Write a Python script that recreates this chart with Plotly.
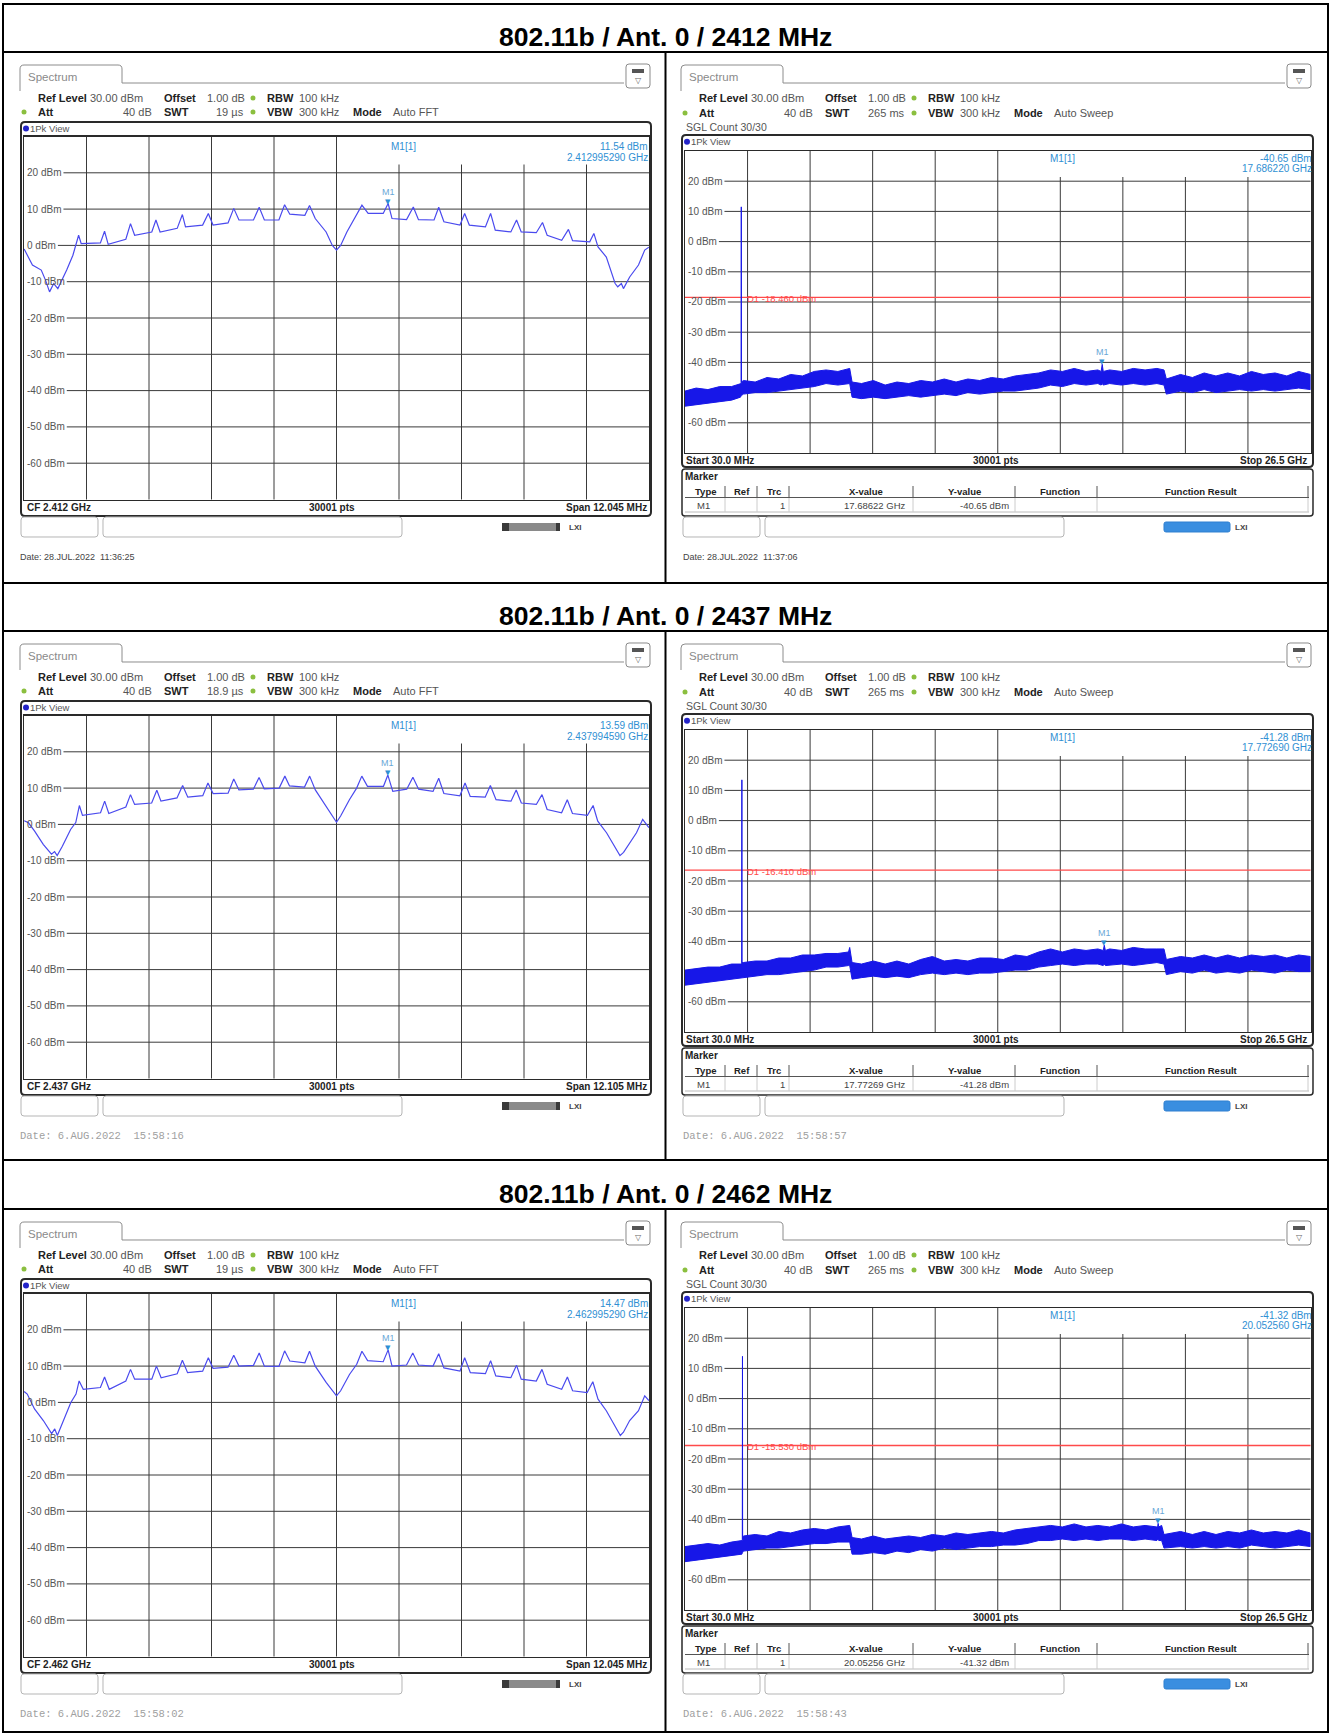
import plotly.graph_objects as go

W, H = 1333, 1735
SANS = "Liberation Sans, Arial, sans-serif"
MONO = "Liberation Mono, Courier New, monospace"
SYM = "DejaVu Sans, sans-serif"

# ---------------------------------------------------------------- data
TITLES = ["802.11b / Ant. 0 / 2412 MHz", "802.11b / Ant. 0 / 2437 MHz", "802.11b / Ant. 0 / 2462 MHz"]
CF_MHZ = [2412.0, 2437.0, 2462.0]
SPAN_MHZ = [12.045, 12.105, 12.045]
CF_LABELS = ["CF 2.412 GHz", "CF 2.437 GHz", "CF 2.462 GHz"]
SPAN_LABELS = ["Span 12.045 MHz", "Span 12.105 MHz", "Span 12.045 MHz"]
SWT_FFT = ["19 µs", "18.9 µs", "19 µs"]
SWT_SWEEP = ["265 ms", "265 ms", "265 ms"]
M1_FFT_OFFSET_MHZ = [0.99529, 0.99459, 0.99529]
M1_FFT_DBM = [11.54, 13.59, 14.47]
M1_FFT_FREQ_TXT = ["2.412995290 GHz", "2.437994590 GHz", "2.462995290 GHz"]
M1_SWP_GHZ = [17.68622, 17.77269, 20.05256]
M1_SWP_DBM = [-40.65, -41.28, -41.32]
M1_SWP_FREQ_TXT = ["17.686220 GHz", "17.772690 GHz", "20.052560 GHz"]
M1_SWP_TABLE_X = ["17.68622 GHz", "17.77269 GHz", "20.05256 GHz"]
D1_DBM = [-18.46, -16.41, -15.53]
D1_TXT = ["D1 -18.460 dBm", "D1 -16.410 dBm", "D1 -15.530 dBm"]
DATES_FFT = ["Date: 28.JUL.2022  11:36:25", "Date: 6.AUG.2022  15:58:16", "Date: 6.AUG.2022  15:58:02"]
DATES_SWP = ["Date: 28.JUL.2022  11:37:06", "Date: 6.AUG.2022  15:58:57", "Date: 6.AUG.2022  15:58:43"]
Y_TICKS = [20, 10, 0, -10, -20, -30, -40, -50, -60]
Y_LABELLED_FFT = [20, 10, 0, -10, -20, -30, -40, -50, -60]
Y_LABELLED_SWP = [20, 10, 0, -10, -20, -30, -40, -60]
SWP_START_GHZ, SWP_STOP_GHZ = 0.03, 26.5

# FFT traces: offset from CF (MHz) and level (dBm)
L1_OFF = [-6.02, -5.86, -5.69, -5.61, -5.53, -5.45, -5.37, -5.20, -5.08, -5.02, -4.97, -4.92, -4.79, -4.55,
          -4.47, -4.40, -4.06, -3.97, -3.89, -3.56, -3.48, -3.40, -3.07, -2.97, -2.91, -2.58, -2.47, -2.38,
          -2.09, -1.98, -1.88, -1.60, -1.49, -1.39, -1.11, -1.00, -0.90, -0.61, -0.52, -0.41, -0.20, -0.08,
          0.00, 0.08, 0.20, 0.37, 0.49, 0.61, 0.90, 0.995, 1.07, 1.35, 1.48, 1.58, 1.88, 1.97, 2.07, 2.38,
          2.47, 2.56, 2.87, 2.97, 3.06, 3.36, 3.47, 3.56, 3.85, 3.97, 4.06, 4.34, 4.47, 4.55, 4.88, 4.96,
          5.04, 5.20, 5.37, 5.42, 5.49, 5.53, 5.65, 5.82, 5.94, 6.02]
L1_DBM = [-1.0, -5.4, -6.8, -9.5, -12.8, -10.5, -11.9, -6.8, -2.7, 0.0, 2.8, 0.5, 0.5, 0.7,
          3.9, 0.3, 1.7, 6.0, 2.8, 3.7, 7.0, 3.7, 4.7, 8.5, 5.1, 5.6, 8.8, 5.6,
          6.2, 10.2, 7.0, 7.0, 10.5, 7.0, 7.0, 11.2, 8.6, 8.3, 11.0, 7.4, 3.7, 0.0,
          -1.3, 0.0, 3.7, 7.9, 11.1, 8.8, 8.8, 11.54, 7.4, 7.1, 10.6, 7.1, 7.0, 10.5, 6.5, 5.6,
          8.8, 5.6, 5.1, 8.8, 4.2, 3.7, 7.0, 3.7, 3.5, 6.3, 2.8, 1.4, 4.4, 1.3, 1.0, 3.3,
          -0.4, -3.2, -10.5, -11.4, -10.5, -11.9, -8.7, -5.4, -1.3, -0.5]
L2_OFF = [-6.05, -5.97, -5.85, -5.68, -5.52, -5.46, -5.41, -5.31, -5.15, -5.05, -4.98, -4.92, -4.57, -4.49,
          -4.41, -4.08, -3.99, -3.91, -3.58, -3.48, -3.40, -3.09, -2.98, -2.88, -2.59, -2.49, -2.39, -2.10,
          -1.99, -1.89, -1.61, -1.50, -1.40, -1.11, -1.00, -0.91, -0.62, -0.52, -0.41, -0.21, -0.06, 0.00,
          0.08, 0.25, 0.39, 0.49, 0.60, 0.91, 0.995, 1.09, 1.36, 1.48, 1.59, 1.87, 1.98, 2.08, 2.39, 2.49,
          2.59, 2.88, 2.98, 3.09, 3.38, 3.48, 3.58, 3.87, 3.98, 4.08, 4.36, 4.47, 4.57, 4.86, 4.97, 5.06,
          5.23, 5.44, 5.49, 5.56, 5.68, 5.81, 5.93, 6.05]
L2_DBM = [1.0, 0.5, -1.8, -5.5, -8.2, -7.5, -8.6, -6.0, -1.4, 0.5, 5.2, 2.5, 3.2, 6.4,
          3.0, 4.8, 8.2, 5.5, 5.9, 9.4, 6.4, 7.3, 10.7, 7.5, 7.9, 11.4, 8.5, 8.6,
          12.5, 9.5, 9.7, 12.9, 9.8, 10.0, 13.3, 10.6, 10.3, 13.3, 9.5, 5.0, 1.8, 0.6,
          2.3, 6.8, 10.0, 13.3, 10.5, 10.5, 13.59, 9.1, 9.7, 13.0, 9.7, 9.1, 12.7, 8.5, 7.9, 11.4,
          7.7, 7.5, 10.7, 6.8, 6.4, 9.5, 5.9, 5.5, 8.2, 4.1, 3.2, 6.8, 3.0, 2.5, 5.2, 0.9,
          -2.3, -7.5, -8.6, -7.7, -5.0, -2.3, 1.4, -0.9]
L3_OFF = [-6.02, -5.96, -5.82, -5.65, -5.49, -5.43, -5.38, -5.29, -5.12, -5.02, -4.96, -4.88, -4.55, -4.47,
          -4.38, -4.06, -3.97, -3.89, -3.56, -3.47, -3.38, -3.07, -2.97, -2.87, -2.58, -2.47, -2.38, -2.09,
          -1.98, -1.88, -1.60, -1.49, -1.39, -1.11, -1.00, -0.90, -0.61, -0.52, -0.41, -0.20, -0.06, 0.00,
          0.08, 0.25, 0.39, 0.49, 0.60, 0.90, 0.995, 1.07, 1.35, 1.47, 1.58, 1.86, 1.97, 2.07, 2.38, 2.47,
          2.58, 2.87, 2.97, 3.07, 3.36, 3.47, 3.56, 3.85, 3.96, 4.06, 4.34, 4.45, 4.55, 4.83, 4.94, 5.04,
          5.20, 5.41, 5.47, 5.53, 5.65, 5.82, 5.94, 6.02]
L3_DBM = [3.0, 2.3, -1.8, -5.0, -8.6, -7.3, -9.1, -5.9, 0.0, 2.3, 5.9, 3.6, 4.1, 7.0,
          3.6, 5.9, 9.1, 6.4, 6.4, 10.0, 6.8, 7.9, 11.6, 8.2, 8.6, 12.3, 9.4, 9.7,
          13.0, 10.0, 10.2, 13.6, 10.0, 9.9, 14.2, 11.4, 10.9, 14.1, 10.0, 5.5, 2.7, 1.8,
          3.2, 7.7, 10.5, 14.1, 11.5, 11.2, 14.47, 10.0, 10.3, 13.6, 10.3, 10.0, 13.4, 9.5, 8.6, 12.3,
          8.2, 7.9, 11.5, 7.3, 6.8, 10.2, 6.4, 5.9, 9.1, 5.0, 3.6, 7.0, 3.2, 2.7, 5.7, 0.9,
          -2.3, -7.3, -9.1, -8.2, -5.0, -2.3, 1.8, 0.5]

# Sweep traces (30 MHz - 26.5 GHz): frequency (GHz), upper / lower envelope of the peak trace (dBm)
R1_F = [0.03, 0.5, 1.0, 1.5, 2.0, 2.38, 2.405, 2.412, 2.419,
        2.5, 3.0, 3.5, 4.0, 4.5, 5.0, 5.5, 6.0, 6.5, 7.0,
        7.1,
        7.5, 8.0, 8.5, 9.0, 9.5, 10.0, 10.5, 11.0, 11.5, 12.0, 12.5, 13.0, 13.5, 14.0, 14.5, 15.0, 15.5, 16.0, 16.5, 17.0, 17.5,
        17.64, 17.686, 17.73,
        18.0, 18.5, 19.0, 19.5, 20.0,
        20.3, 20.4,
        21.0, 21.5, 22.0, 22.5, 23.0, 23.5, 24.0, 24.5, 25.0, 25.5, 26.0, 26.5]
R1_UP = [-49.5, -48.5, -49.0, -48.0, -48.0, -47.0, -47.0, 11.5, -46.5,
         -46.0, -46.5, -45.0, -45.5, -44.0, -44.5, -43.0, -42.5, -43.0, -42.0,
         -46.5,
         -47.0, -46.0, -47.5, -46.5, -47.0, -46.0, -46.5, -45.5, -46.5, -45.5, -46.0, -45.0, -45.5, -44.5, -44.0, -43.5, -42.5, -43.0, -42.0, -43.0, -42.5,
         -43.0, -40.65, -43.0,
         -42.5, -43.0, -42.0, -42.5, -42.0,
         -42.5, -45.5,
         -44.0, -45.0, -43.5, -44.5, -43.5, -44.5, -43.0, -44.0, -43.5, -44.5, -43.0, -44.0]
R1_LO = [-54.5, -54.0, -53.5, -53.0, -52.5, -51.5, -51.0, -51.0, -51.0,
         -50.5, -50.0, -50.0, -49.5, -49.0, -48.5, -48.0, -47.0, -47.5, -47.0,
         -51.5,
         -52.0, -51.5, -52.0, -51.5, -51.0, -51.5, -51.0, -50.5, -51.0, -50.0, -50.5, -50.0, -49.5, -49.5, -49.0, -48.5, -47.5, -48.0, -47.0, -47.5, -47.0,
         -47.5, -47.0, -47.5,
         -47.0, -47.5, -47.0, -47.5, -47.0,
         -47.5, -50.5,
         -49.5, -50.0, -49.0, -50.0, -49.5, -49.0, -49.5, -49.0, -49.5, -49.0, -48.5, -49.0]
R2_F = [0.03, 0.5, 1.0, 1.5, 2.0, 2.41, 2.430, 2.437, 2.444,
        2.5, 3.0, 3.5, 4.0, 4.5, 5.0, 5.5, 6.0, 6.5,
        6.95, 7.0, 7.1,
        7.5, 8.0, 8.5, 9.0, 9.5, 10.0, 10.5, 11.0, 11.5, 12.0, 12.5, 13.0, 13.5, 14.0, 14.5, 15.0, 15.5, 16.0, 16.5, 17.0, 17.5,
        17.73, 17.773, 17.82,
        18.0, 18.5, 19.0, 19.5, 20.0,
        20.3, 20.4,
        21.0, 21.5, 22.0, 22.5, 23.0, 23.5, 24.0, 24.5, 25.0, 25.5, 26.0, 26.5]
R2_UP = [-49.5, -49.0, -48.5, -48.5, -47.5, -47.5, -47.5, 13.5, -47.0,
         -47.0, -46.5, -46.5, -45.5, -45.5, -44.5, -44.5, -44.0, -44.0,
         -43.5, -42.0, -47.0,
         -47.5, -46.5, -47.5, -46.5, -47.5, -46.0, -45.0, -46.5, -46.0, -46.5, -45.5, -45.5, -46.0, -44.5, -45.0, -43.5, -42.5, -43.5, -42.5, -43.0, -42.5,
         -43.0, -41.28, -43.0,
         -42.5, -43.0, -42.0, -42.5, -42.5,
         -42.5, -46.0,
         -45.0, -45.5, -44.5, -45.5, -44.5, -45.5, -44.5, -45.0, -44.5, -45.5, -44.5, -45.0]
R2_LO = [-54.5, -54.0, -53.5, -53.0, -52.5, -52.0, -52.0, -52.0, -52.0,
         -52.0, -51.5, -51.0, -51.0, -50.5, -50.0, -49.5, -48.5, -48.5,
         -48.0, -48.0, -52.5,
         -52.0, -51.5, -52.0, -51.5, -52.0, -51.0, -50.5, -51.0, -50.5, -51.0, -50.5, -50.5, -50.0, -49.5, -49.5, -48.5, -48.0, -47.5, -48.0, -47.5, -47.5,
         -48.0, -47.5, -48.0,
         -48.0, -47.5, -48.0, -47.5, -47.0,
         -47.5, -51.0,
         -50.0, -50.5, -49.5, -50.5, -50.0, -50.5, -49.5, -50.0, -50.5, -49.5, -50.0, -50.0]
R3_F = [0.03, 0.5, 1.0, 1.5, 2.0, 2.44, 2.455, 2.462, 2.469,
        2.5, 3.0, 3.5, 4.0, 4.5, 5.0, 5.5, 6.0, 6.5, 7.0,
        7.1,
        7.5, 8.0, 8.5, 9.0, 9.5, 10.0, 10.5, 11.0, 11.5, 12.0, 12.5, 13.0, 13.5, 14.0, 14.5, 15.0, 15.5, 16.0, 16.5, 17.0,
        17.5, 18.0, 18.5, 19.0, 19.5, 20.0,
        20.03, 20.053, 20.08,
        20.2, 20.3,
        21.0, 21.5, 22.0, 22.5, 23.0, 23.5, 24.0, 24.5, 25.0, 25.5, 26.0, 26.5]
R3_UP = [-49.0, -48.5, -48.0, -48.5, -47.5, -47.0, -47.0, 14.0, -46.5,
         -45.5, -45.0, -45.5, -44.0, -44.5, -43.5, -43.0, -43.5, -42.5, -42.0,
         -46.0,
         -46.5, -45.5, -46.5, -46.0, -45.5, -46.0, -45.0, -45.5, -44.5, -45.0, -44.5, -44.0, -44.5, -43.5, -43.0, -42.5, -42.0, -42.5, -41.5, -42.5,
         -42.0, -42.5, -41.5, -42.5, -42.0, -42.5,
         -42.5, -41.32, -42.5,
         -42.0, -45.0,
         -44.0, -45.0, -44.0, -45.0, -44.0, -44.5, -43.5, -44.5, -44.0, -44.5, -43.5, -44.5]
R3_LO = [-54.0, -53.5, -53.0, -52.5, -52.0, -51.5, -51.0, -51.0, -51.0,
         -50.5, -50.0, -49.5, -49.5, -49.0, -48.5, -48.0, -48.0, -47.5, -47.5,
         -51.5,
         -51.5, -51.0, -51.5, -50.5, -51.0, -50.0, -50.5, -49.5, -50.0, -49.5, -49.0, -49.0, -48.5, -48.5, -48.0, -47.0, -47.0, -46.5, -47.0, -46.5,
         -47.0, -46.5, -46.5, -47.0, -46.5, -47.0,
         -46.5, -46.5, -47.0,
         -47.0, -49.5,
         -49.0, -49.5, -49.0, -49.5, -49.0, -49.5, -48.5, -49.0, -49.5, -49.0, -48.5, -49.0]

FFT_TRACES = [(L1_OFF, L1_DBM), (L2_OFF, L2_DBM), (L3_OFF, L3_DBM)]
SWP_TRACES = [(R1_F, R1_UP, R1_LO), (R2_F, R2_UP, R2_LO), (R3_F, R3_UP, R3_LO)]

# ---------------------------------------------------------------- helpers
ROW_TOP = [52, 631, 1209]
shapes, annos, traces, axes = [], [], [], {}

TRACE_FFT = "#4a4aee"
TRACE_SWP = "#1717e8"
MK = "#2f8fd3"
GRID = "#3a3a3a"
CHAR_W = {"-": 333, " ": 278, "d": 556, "B": 667, "m": 833}


def text_w(s, size):
    return sum(CHAR_W.get(c, 556) for c in s) * size / 1000.0


def fx(x):
    return x / W


def fy(y):
    return 1 - y / H


def pt(x, y):
    return f"{fx(x):.6f},{fy(y):.6f}"


def add_line(x0, y0, x1, y1, color="#000", w=1.0):
    shapes.append(dict(type="line", xref="paper", yref="paper", x0=fx(x0), y0=fy(y0), x1=fx(x1), y1=fy(y1),
                       line=dict(color=color, width=w)))


def add_rect(x0, y0, x1, y1, fill, line=None, w=0):
    shapes.append(dict(type="rect", xref="paper", yref="paper", x0=fx(x0), y0=fy(y1), x1=fx(x1), y1=fy(y0),
                       fillcolor=fill, line=dict(color=line or "rgba(0,0,0,0)", width=w)))


def add_rrect(x0, y0, x1, y1, r, line="#333", w=1.0, fill="rgba(0,0,0,0)"):
    d = (f"M{pt(x0 + r, y0)} L{pt(x1 - r, y0)} Q{pt(x1, y0)} {pt(x1, y0 + r)} L{pt(x1, y1 - r)} "
         f"Q{pt(x1, y1)} {pt(x1 - r, y1)} L{pt(x0 + r, y1)} Q{pt(x0, y1)} {pt(x0, y1 - r)} "
         f"L{pt(x0, y0 + r)} Q{pt(x0, y0)} {pt(x0 + r, y0)} Z")
    shapes.append(dict(type="path", xref="paper", yref="paper", path=d, line=dict(color=line, width=w),
                       fillcolor=fill))


def add_dot(x, y, r, color):
    shapes.append(dict(type="circle", xref="paper", yref="paper", x0=fx(x - r), x1=fx(x + r), y0=fy(y + r),
                       y1=fy(y - r), fillcolor=color, line=dict(width=0)))


def add_text(x, y, s, size=11, color="#222", anchor="left", bold=False, family=SANS):
    annos.append(dict(xref="paper", yref="paper", x=fx(x), y=fy(y), text=f"<b>{s}</b>" if bold else s,
                      showarrow=False, xanchor=anchor, yanchor="middle", borderpad=0, borderwidth=0,
                      font=dict(size=size, color=color, family=family)))


AX_COMMON = dict(showgrid=False, showticklabels=False, ticks="", zeroline=False,
                 showline=True, linecolor="#2a2a2a", linewidth=1.2, mirror=True, fixedrange=True)
_n = [0]


def new_axes(x0, y0, x1, y1, xrange):
    _n[0] += 1
    s = "" if _n[0] == 1 else str(_n[0])
    axes["xaxis" + s] = dict(domain=[fx(x0), fx(x1)], range=list(xrange), anchor="y" + s, **AX_COMMON)
    axes["yaxis" + s] = dict(domain=[fy(y1), fy(y0)], range=[-70, 30], anchor="x" + s, **AX_COMMON)
    return "x" + s, "y" + s


def grid(xn, yn, labelled, pw, ph, info_h):
    for k in range(1, 10):
        top = 1.0 if k <= 5 else 1.0 - info_h / ph
        shapes.append(dict(type="line", xref=f"{xn} domain", yref=f"{yn} domain", x0=k / 10, x1=k / 10,
                           y0=0, y1=top, line=dict(color=GRID, width=1), layer="below"))
    for v in Y_TICKS:
        s = f"{v} dBm"
        start = (4 + text_w(s, 10) + 1) / pw if v in labelled else 0
        shapes.append(dict(type="line", xref=f"{xn} domain", yref=yn, x0=start, x1=1, y0=v, y1=v,
                           line=dict(color=GRID, width=1), layer="below"))
        if v in labelled:
            annos.append(dict(xref=f"{xn} domain", yref=yn, x=3 / pw, y=v, text=s, showarrow=False,
                              xanchor="left", yanchor="middle", borderpad=0, borderwidth=0,
                              font=dict(size=10, color="#555", family=SANS)))


def header(fx0, top, sweep, swt, mode):
    t0 = fx0 - 1
    d = (f"M{pt(t0, top + 39)} L{pt(t0, top + 17)} Q{pt(t0, top + 13)} {pt(t0 + 4, top + 13)} "
         f"L{pt(t0 + 98, top + 13)} Q{pt(t0 + 102, top + 13)} {pt(t0 + 102, top + 17)} "
         f"L{pt(t0 + 102, top + 31)} L{pt(fx0 + 603, top + 31)}")
    shapes.append(dict(type="path", xref="paper", yref="paper", path=d, line=dict(color="#8c8c8c", width=1),
                       fillcolor="rgba(0,0,0,0)"))
    add_text(fx0 + 7, top + 25, "Spectrum", size=11.5, color="#8a8a8a")
    add_rrect(fx0 + 605, top + 12, fx0 + 629, top + 36, 3, line="#8a8a8a", w=1)
    add_rect(fx0 + 611, top + 17, fx0 + 623, top + 21, "#555")
    add_text(fx0 + 617, top + 28, "▽", size=8, color="#666", anchor="center", family=SYM)
    ya, yb = top + 46, top + (61 if sweep else 60)
    add_text(fx0 + 16.5, ya, "Ref Level", bold=True)
    add_text(fx0 + 69, ya, "30.00 dBm", color="#555")
    add_text(fx0 + 143, ya, "Offset", bold=True)
    add_text(fx0 + 186, ya, "1.00 dB", color="#555")
    add_dot(fx0 + 232, ya, 2.5, "#8bbf3f")
    add_text(fx0 + 246, ya, "RBW", bold=True)
    add_text(fx0 + 278, ya, "100 kHz", color="#555")
    add_dot(fx0 + 3, yb, 2.5, "#8bbf3f")
    add_text(fx0 + 17, yb, "Att", bold=True)
    add_text(fx0 + 131, yb, "40 dB", color="#555", anchor="right")
    add_text(fx0 + 143, yb, "SWT", bold=True)
    add_text(fx0 + 223, yb, swt, color="#555", anchor="right")
    add_dot(fx0 + 232, yb, 2.5, "#8bbf3f")
    add_text(fx0 + 246, yb, "VBW", bold=True)
    add_text(fx0 + 278, yb, "300 kHz", color="#555")
    add_text(fx0 + 332, yb, "Mode", bold=True)
    add_text(fx0 + 372, yb, mode, color="#555")
    if sweep:
        add_text(fx0 + 3.5, top + 74.7, "SGL Count 30/30", color="#555", size=10.5)


def marker_glyph(xn, yn, x, y):
    annos.append(dict(xref=xn, yref=yn, x=x, y=y, text="▼", showarrow=False, xanchor="center", yanchor="bottom",
                      borderpad=0, borderwidth=0, yshift=-2, font=dict(size=7, color=MK, family=SYM)))
    annos.append(dict(xref=xn, yref=yn, x=x, y=y, text="M1", showarrow=False, xanchor="center", yanchor="bottom",
                      borderpad=0, borderwidth=0, yshift=7, font=dict(size=9, color="#6aa8d8", family=SANS)))


def status(fx0, top, sweep):
    add_rrect(fx0, top + 465, fx0 + 77, top + 485, 3, line="#b5b5b5", w=1)
    add_rrect(fx0 + 82, top + 465, fx0 + 381, top + 485, 3, line="#b5b5b5", w=1)
    if sweep:
        add_rrect(fx0 + 481, top + 470, fx0 + 547, top + 480, 2, line="#2f7fd0", w=1, fill="#3a8ee0")
        add_text(fx0 + 552, top + 475, "LXI", size=8, color="#444", bold=True)
    else:
        add_rect(fx0 + 481, top + 471, fx0 + 539, top + 479, "#8a8a8a")
        add_rect(fx0 + 481, top + 471, fx0 + 488, top + 479, "#3a3a3a")
        add_rect(fx0 + 535, top + 471, fx0 + 539, top + 479, "#3a3a3a")
        add_text(fx0 + 548, top + 475, "LXI", size=8, color="#444", bold=True)


# ---------------------------------------------------------------- table frame
add_rect(3, 4, 1328, 1732, "rgba(0,0,0,0)", line="#000", w=2)
for yl in [52, 583, 631, 1160, 1209]:
    add_line(3, yl, 1328, yl, "#000", 2)
for (ya_, yb_) in [(52, 583), (631, 1160), (1209, 1732)]:
    add_line(665.5, ya_, 665.5, yb_, "#000", 2)
for r in range(3):
    add_text(665.5, ROW_TOP[r] - 15, TITLES[r], size=26.5, color="#000", anchor="center", bold=True)

# ---------------------------------------------------------------- FFT panels (left)
for r in range(3):
    top = ROW_TOP[r]
    fx0 = 21
    header(fx0, top, False, SWT_FFT[r], "Auto FFT")
    add_rrect(fx0, top + 70, fx0 + 630, top + 464, 4, line="#2a2a2a", w=2)
    add_dot(fx0 + 5, top + 76.5, 3, "#2323c8")
    add_text(fx0 + 9, top + 76.5, "1Pk View", size=9.5, color="#555")
    x0, x1, y0, y1 = fx0 + 3, fx0 + 628, top + 84.5, top + 447.5
    pw, ph = x1 - x0, y1 - y0
    cf, sp = CF_MHZ[r], SPAN_MHZ[r]
    xn, yn = new_axes(x0, y0, x1, y1, (cf - sp / 2, cf + sp / 2))
    grid(xn, yn, Y_LABELLED_FFT, pw, ph, 28)
    off, lev = FFT_TRACES[r]
    assert len(off) == len(lev)
    traces.append(go.Scatter(x=[cf + o for o in off], y=lev, mode="lines", line=dict(color=TRACE_FFT, width=1.2),
                             xaxis=xn, yaxis=yn, hoverinfo="skip", showlegend=False))
    marker_glyph(xn, yn, cf + M1_FFT_OFFSET_MHZ[r], M1_FFT_DBM[r])
    add_text(fx0 + 382, y0 + 10, "M1[1]", size=10, color=MK, anchor="center")
    add_text(x1 - 1, y0 + 10, f"{M1_FFT_DBM[r]:.2f} dBm", size=10, color=MK, anchor="right")
    add_text(x1 - 1, y0 + 21, M1_FFT_FREQ_TXT[r], size=10, color=MK, anchor="right")
    add_text(x0 + 3, top + 455, CF_LABELS[r], size=10, bold=True)
    add_text(fx0 + 311, top + 455, "30001 pts", size=10, bold=True, anchor="center")
    add_text(x1 - 2, top + 455, SPAN_LABELS[r], size=10, bold=True, anchor="right")
    status(fx0, top, False)
    if r == 0:
        add_text(fx0 - 1, top + 505, DATES_FFT[r], size=9, color="#444")
    else:
        add_text(fx0 - 1, top + 505, DATES_FFT[r], size=10.5, color="#a0a0a0", family=MONO)

# ---------------------------------------------------------------- Sweep panels (right)
for r in range(3):
    top = ROW_TOP[r]
    fx0 = 682
    header(fx0, top, True, SWT_SWEEP[r], "Auto Sweep")
    add_rrect(fx0, top + 83, fx0 + 631, top + 415, 4, line="#2a2a2a", w=2)
    add_dot(fx0 + 5, top + 89.7, 3, "#2323c8")
    add_text(fx0 + 9, top + 89.7, "1Pk View", size=9.5, color="#555")
    x0, x1, y0, y1 = fx0 + 3, fx0 + 628.5, top + 99, top + 401
    pw, ph = x1 - x0, y1 - y0
    xn, yn = new_axes(x0, y0, x1, y1, (SWP_START_GHZ, SWP_STOP_GHZ))
    grid(xn, yn, Y_LABELLED_SWP, pw, ph, 26)
    f, up, lo = SWP_TRACES[r]
    assert len(f) == len(up) == len(lo), (r, len(f), len(up), len(lo))
    shapes.append(dict(type="line", xref=f"{xn} domain", yref=yn, x0=0, x1=1, y0=D1_DBM[r], y1=D1_DBM[r],
                       line=dict(color="#ff4a4a", width=1.3), layer="below"))
    annos.append(dict(xref="paper", yref=yn, x=fx(fx0 + 65), y=D1_DBM[r], text=D1_TXT[r], showarrow=False,
                      xanchor="left", yanchor="middle", yshift=-1, borderpad=0, borderwidth=0,
                      font=dict(size=9.5, color="#ff4a4a", family=SANS)))
    traces.append(go.Scatter(x=f + f[::-1], y=up + lo[::-1], mode="lines", fill="toself", fillcolor=TRACE_SWP,
                             line=dict(color=TRACE_SWP, width=1), xaxis=xn, yaxis=yn, hoverinfo="skip",
                             showlegend=False))
    marker_glyph(xn, yn, M1_SWP_GHZ[r], M1_SWP_DBM[r])
    add_text(fx0 + 380, y0 + 7.5, "M1[1]", size=10, color=MK, anchor="center")
    add_text(x1 + 1, y0 + 7.5, f"{M1_SWP_DBM[r]:.2f} dBm", size=10, color=MK, anchor="right")
    add_text(x1 + 1, y0 + 17.5, M1_SWP_FREQ_TXT[r], size=10, color=MK, anchor="right")
    add_text(x0 + 1, top + 408.7, "Start 30.0 MHz", size=10, bold=True)
    add_text(fx0 + 314, top + 408.7, "30001 pts", size=10, bold=True, anchor="center")
    add_text(x1 - 4, top + 408.7, "Stop 26.5 GHz", size=10, bold=True, anchor="right")
    add_rrect(fx0, top + 417, fx0 + 631, top + 464, 3, line="#2a2a2a", w=1.5)
    add_text(fx0 + 3, top + 424.7, "Marker", size=10, bold=True)
    hy, dy = top + 439.5, top + 453
    add_line(fx0 + 3, top + 445.5, fx0 + 627, top + 445.5, "#555", 1)
    add_line(fx0 + 3, top + 460, fx0 + 627, top + 460, "#bbb", 1)
    for cx in [43, 75, 107, 231, 333, 415, 626]:
        add_line(fx0 + cx, top + 434, fx0 + cx, top + 445.5, "#555", 1)
        add_line(fx0 + cx, top + 446, fx0 + cx, top + 460, "#ccc", 1)
    for s, cx in [("Type", 23.5), ("Ref", 60), ("Trc", 92), ("X-value", 184), ("Y-value", 282),
                  ("Function", 378), ("Function Result", 519)]:
        add_text(fx0 + cx, hy, s, size=9.5, bold=True, anchor="center")
    add_text(fx0 + 21.5, dy, "M1", size=9.5, color="#444", anchor="center")
    add_text(fx0 + 103, dy, "1", size=9.5, color="#444", anchor="right")
    add_text(fx0 + 224, dy, M1_SWP_TABLE_X[r], size=9.5, color="#444", anchor="right")
    add_text(fx0 + 327, dy, f"{M1_SWP_DBM[r]:.2f} dBm", size=9.5, color="#444", anchor="right")
    status(fx0 + 1, top, True)
    if r == 0:
        add_text(fx0 + 1, top + 505, DATES_SWP[r], size=9, color="#444")
    else:
        add_text(fx0 + 1, top + 505, DATES_SWP[r], size=10.5, color="#a0a0a0", family=MONO)

fig = go.Figure(data=traces)
fig.update_layout(width=W, height=H, margin=dict(l=0, r=0, t=0, b=0), paper_bgcolor="white",
                  plot_bgcolor="rgba(0,0,0,0)", showlegend=False, shapes=shapes, annotations=annos, **axes)
fig.write_html("out.html", include_plotlyjs=True, config={"displayModeBar": False, "staticPlot": True},
               post_script="document.body.style.margin='0';")
